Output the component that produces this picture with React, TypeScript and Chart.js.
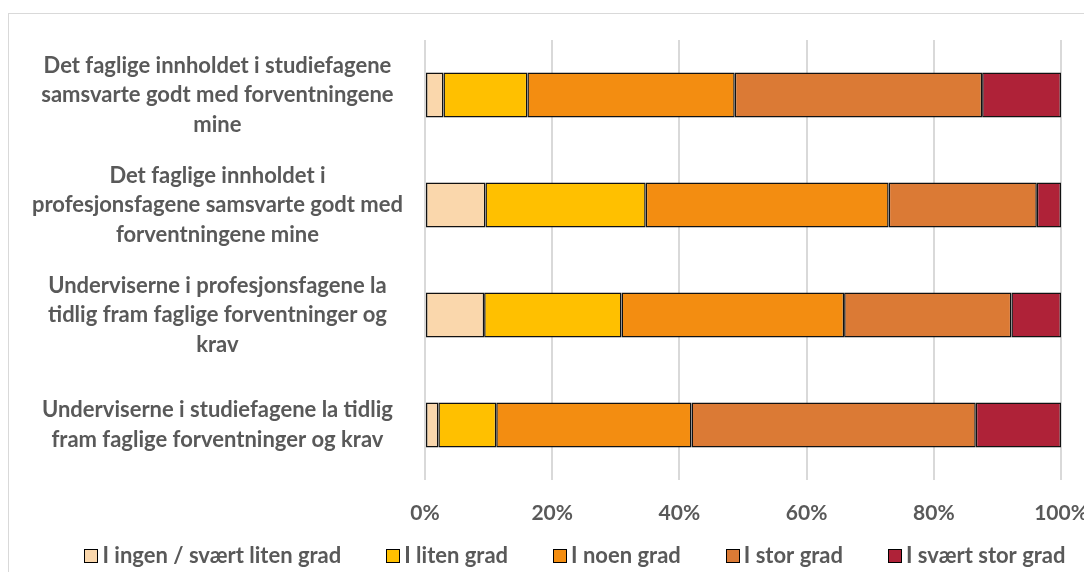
import React, { useEffect, useRef } from "react";
import { Chart, registerables } from "chart.js";

Chart.register(...registerables);

const categories: string[][] = [
  ["Det faglige innholdet i studiefagene", "samsvarte godt med forventningene", "mine"],
  ["Det faglige innholdet i", "profesjonsfagene samsvarte godt med", "forventningene mine"],
  ["Underviserne i profesjonsfagene la", "tidlig fram faglige forventninger og", "krav"],
  ["Underviserne i studiefagene la tidlig", "fram faglige forventninger og krav"],
];

const seriesNames = [
  "I ingen / svært liten grad",
  "I liten grad",
  "I noen grad",
  "I stor grad",
  "I svært stor grad",
];

const ingenGrad = [2.9, 9.5, 9.3, 2.1];
const litenGrad = [13.2, 25.2, 21.6, 9.1];
const noenGrad = [32.6, 38.2, 35.0, 30.7];
const storGrad = [38.9, 23.3, 26.3, 44.7];
const svaertStorGrad = [12.4, 3.8, 7.8, 13.4];

const xTicks = [0, 20, 40, 60, 80, 100];

const colors = ["#FAD7AC", "#FFC000", "#F38D11", "#DB7A35", "#AF2238"];

const FONT = "Lato, 'Open Sans', sans-serif";
const TEXT_COLOR = "#595959";

const legendPlugin = {
  id: "bottomLegend",
  afterDraw(chart: any) {
    const ctx = chart.ctx as CanvasRenderingContext2D;
    ctx.save();
    ctx.font = `bold 22px ${FONT}`;
    ctx.textBaseline = "middle";
    ctx.textAlign = "left";
    const items = chart.data.datasets.map((ds: any) => ({
      text: ds.label as string,
      fill: ds.backgroundColor as string,
    }));
    const box = 13;
    const gapBoxText = 5;
    const gapItems = 45;
    const widths = items.map((it: any) => box + gapBoxText + ctx.measureText(it.text).width);
    const total = widths.reduce((a: number, b: number) => a + b, 0) + gapItems * (items.length - 1);
    const centerX = 566;
    const cy = 541;
    let x = centerX - total / 2;
    items.forEach((it: any, i: number) => {
      const bx = Math.round(x) + 0.5;
      const by = Math.round(cy - box / 2) + 0.5;
      ctx.fillStyle = it.fill;
      ctx.fillRect(bx, by, box, box);
      ctx.strokeStyle = "#000000";
      ctx.lineWidth = 1;
      ctx.strokeRect(bx, by, box, box);
      ctx.fillStyle = TEXT_COLOR;
      ctx.fillText(it.text, x + box + gapBoxText, cy + 1);
      x += widths[i] + gapItems;
    });
    ctx.restore();
  },
};

export default function App() {
  const ref = useRef<HTMLCanvasElement | null>(null);

  useEffect(() => {
    if (!ref.current) return;
    const seriesData = [ingenGrad, litenGrad, noenGrad, storGrad, svaertStorGrad];
    const chart = new Chart(ref.current, {
      type: "bar",
      data: {
        labels: categories,
        datasets: seriesData.map((d, i) => ({
          label: seriesNames[i],
          data: d,
          backgroundColor: colors[i],
          borderColor: "#111111",
          borderWidth: 1.5,
          borderSkipped: false,
          categoryPercentage: 1,
          barPercentage: 0.41,
        })),
      },
      plugins: [legendPlugin],
      options: {
        indexAxis: "y",
        animation: false,
        responsive: false,
        layout: { padding: { top: 26, right: 31, left: 0, bottom: 37 } },
        plugins: {
          tooltip: { enabled: false },
          legend: { display: false },
        },
        scales: {
          x: {
            stacked: true,
            min: 0,
            max: 100,
            afterBuildTicks: (scale: any) => {
              scale.ticks = xTicks.map((v) => ({ value: v }));
            },
            afterFit: (scale: any) => {
              scale.height = 60;
              scale.paddingLeft = 0;
              scale.paddingRight = 0;
            },
            ticks: {
              color: TEXT_COLOR,
              padding: 21,
              font: { family: FONT, size: 21, weight: "bold" },
              callback: (v: any) => v + "%",
            },
            grid: { color: "#d9d9d9", lineWidth: 2, drawTicks: false },
            border: { display: false },
          },
          y: {
            stacked: true,
            afterFit: (scale: any) => {
              scale.width = 416;
              scale.paddingTop = 0;
              scale.paddingBottom = 0;
            },
            ticks: {
              color: TEXT_COLOR,
              padding: 22,
              crossAlign: "center",
              font: { family: FONT, size: 22, weight: "bold", lineHeight: 1.34 },
            },
            grid: { display: false, drawTicks: false },
            border: { display: false },
          },
        },
      },
    });
    return () => chart.destroy();
  }, []);

  return (
    <div
      style={{
        position: "relative",
        top: 5,
        width: 1084,
        height: 564,
        borderTop: "1px solid #d9d9d9",
        borderLeft: "1px solid #d9d9d9",
        boxSizing: "border-box",
        overflow: "hidden",
      }}
    >
      <canvas ref={ref} width={1083} height={563} style={{ display: "block" }} />
    </div>
  );
}
